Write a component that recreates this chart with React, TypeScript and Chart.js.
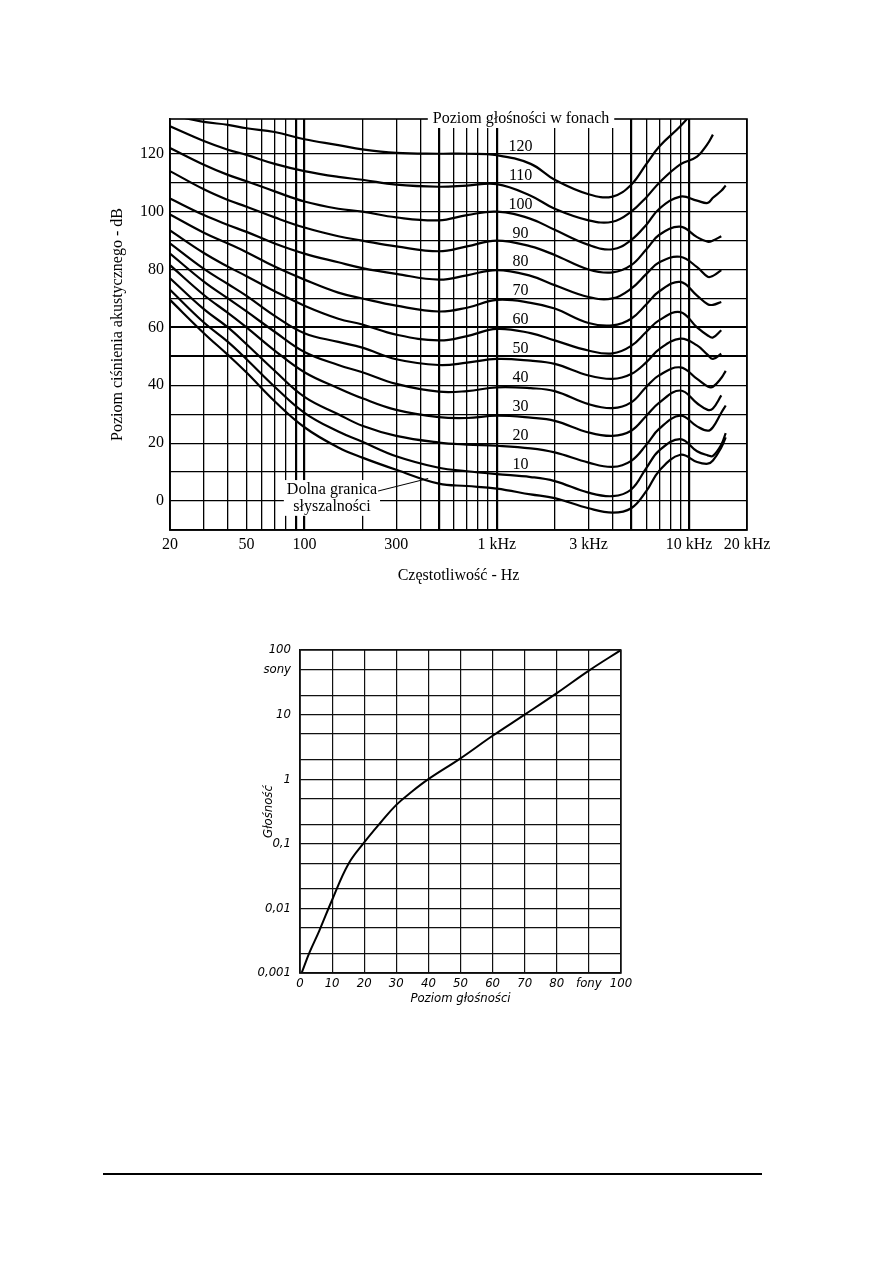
import React, { useEffect, useRef } from 'react';
import { Chart, registerables } from 'chart.js';

Chart.register(...registerables);
Chart.defaults.color = '#000';

// ================= Top chart: equal-loudness contours =================
const FREQ_HZ = [20, 30, 40, 50, 70, 100, 150, 200, 300, 500, 700, 1000, 1500, 2000, 3000, 4000, 5000, 6000, 7000, 9000, 11000, 12500, 13300, 14700, 15500];

const PHON_120 = [133.5, 131, 130, 128.8, 127.5, 125, 123, 121.5, 120.3, 120, 120, 119.5, 116.5, 111, 106, 105.2, 109.3, 116.5, 122.5, 129.5, 136, null, null, null, null];
const PHON_110 = [129.5, 124.4, 121.4, 119.6, 116.5, 114, 112, 111, 109.3, 108.6, 109, 109.5, 105.5, 101, 97, 96.5, 100, 105, 110, 116.3, 119, 123.5, 126.6, null, null];
const PHON_100 = [122, 116.2, 112.7, 110.5, 107, 103.5, 101, 100, 98, 97, 98.8, 100, 97.5, 93.7, 88.5, 87, 90.2, 95.5, 101, 105.2, 103.8, 103, 104.8, 107.2, 109];
const PHON_90 = [114, 107.7, 104, 101.7, 98, 94.5, 91.5, 90, 88, 86.3, 88, 90, 88, 85, 80, 79, 81.5, 87, 92, 94.8, 91.2, 89.6, 90, 91.5, null];
const PHON_80 = [104.5, 98.8, 95.4, 93, 89, 85.5, 82.5, 80.5, 78.5, 76.5, 78, 79.8, 77.8, 74.6, 70.5, 70, 73.4, 78.5, 82.5, 84.4, 80.8, 77.5, 77.8, 79.8, null];
const PHON_70 = [99, 92.7, 89, 86, 81, 76.5, 72, 70, 67.5, 65.5, 66.8, 69.5, 68.5, 66.5, 61.5, 60.7, 63, 68, 72.5, 75.7, 71, 68, 67.8, 68.8, null];
const PHON_60 = [93.5, 85.7, 81, 77.7, 72.5, 67.5, 63, 61, 57.5, 55.5, 57, 59.5, 58, 55.5, 52, 51, 53.6, 58.5, 62.5, 65.3, 60, 57.2, 56.5, 59, null];
const PHON_50 = [89, 80.2, 75, 70.9, 64, 58, 55, 53, 49, 47, 47.8, 49.1, 48.5, 47.4, 43.4, 42.2, 43.9, 48, 52.5, 56.1, 53.8, 50.5, 49.1, 50.9, null];
const PHON_40 = [85.5, 75.8, 70, 65.5, 58.5, 51.5, 47, 44.5, 40.5, 37.8, 38, 39.3, 39, 38, 33.5, 32.1, 34.1, 39.5, 43.5, 46.2, 42.2, 39.6, 39.5, 42.5, 45];
const PHON_30 = [81.5, 71.2, 65, 60, 52, 44.5, 39, 35.5, 31.5, 29, 28.7, 29.5, 28.8, 27.7, 23.7, 22.5, 24.3, 29.5, 34, 38.2, 33.8, 31.5, 32, 36.5, null];
const PHON_20 = [77, 66.3, 60, 54.2, 45, 36, 30, 26, 22.5, 20.2, 19.5, 19.1, 18.2, 16.8, 13.3, 11.8, 13.9, 19.5, 25, 29.5, 25.8, 24.3, 25.5, 30.5, 33];
const PHON_10 = [73, 61.7, 55, 49, 39.5, 30.5, 24, 20.5, 15.5, 11.5, 10.3, 9.3, 8.3, 6.9, 2.9, 1.7, 4, 11.5, 17.5, 21.4, 17.2, 15.8, 15.6, 19.5, 23.5];
const THRESHOLD = [69.5, 58, 50.5, 44.4, 34.5, 25.5, 18.5, 15, 10.8, 6, 5.2, 4.3, 2.3, 1, -2.5, -4, -2.5, 3.5, 10.5, 16, 13.5, 12.9, 14, 18.5, 22];

const CONTOUR_PHONS = [120, 110, 100, 90, 80, 70, 60, 50, 40, 30, 20, 10, 0];
const CONTOURS = [PHON_120, PHON_110, PHON_100, PHON_90, PHON_80, PHON_70, PHON_60, PHON_50, PHON_40, PHON_30, PHON_20, PHON_10, THRESHOLD];

const FREQ_GRID = [20, 30, 40, 50, 60, 70, 80, 90, 100, 200, 300, 400, 500, 600, 700, 800, 900, 1000, 2000, 3000, 4000, 5000, 6000, 7000, 8000, 9000, 10000, 20000];
const FREQ_LABEL_VALUES = [20, 50, 100, 300, 1000, 3000, 10000, 20000];
const FREQ_LABEL_TEXTS = ['20', '50', '100', '300', '1 kHz', '3 kHz', '10 kHz', '20 kHz'];
const FREQ_HEAVY = [90, 100, 500, 1000, 5000, 10000];

const SPL_GRID = [-10, 0, 10, 20, 30, 40, 50, 60, 70, 80, 90, 100, 110, 120];
const SPL_LABELS = [0, 20, 40, 60, 80, 100, 120];
const SPL_HEAVY = [50, 60];

const TOP_TITLE = 'Poziom głośności w fonach';
const THRESHOLD_TEXT = ['Dolna granica', 'słyszalności'];

// ================= Bottom chart: loudness vs loudness level =================
const LEVEL_PHON = [0.5, 3, 6, 10, 15, 20, 25, 30, 35, 40, 50, 60, 70, 80, 90, 100];
const LOUDNESS_SONE = [0.001, 0.0021, 0.0045, 0.0135, 0.048, 0.105, 0.21, 0.4, 0.65, 1, 2.1, 4.7, 10, 21.5, 48, 100];

const LEVEL_TICKS = [0, 10, 20, 30, 40, 50, 60, 70, 80, 90, 100];
const LEVEL_TICK_TEXTS = ['0', '10', '20', '30', '40', '50', '60', '70', '80', 'fony', '100'];
const SONE_GRID = [0.001, 0.002, 0.005, 0.01, 0.02, 0.05, 0.1, 0.2, 0.5, 1, 2, 5, 10, 20, 50, 100];
const SONE_LABEL_VALUES = [0.001, 0.01, 0.1, 1, 10, 50, 100];
const SONE_LABEL_TEXTS = ['0,001', '0,01', '0,1', '1', '10', 'sony', '100'];

const SERIF = '"Liberation Serif", "DejaVu Serif", serif';
const NARROW = '"Liberation Sans Narrow", "DejaVu Sans Condensed", "Liberation Sans", sans-serif';

const topAnnotations = {
  id: 'topAnnotations',
  afterDraw(chart: any) {
    const { ctx, chartArea, scales } = chart;
    const xs = scales.x;
    const ys = scales.y;
    ctx.save();
    ctx.strokeStyle = '#000';
    ctx.lineWidth = 1.6;
    ctx.strokeRect(chartArea.left, chartArea.top, chartArea.right - chartArea.left, chartArea.bottom - chartArea.top);

    ctx.font = `16px ${SERIF}`;
    ctx.fillStyle = '#000';
    ctx.textAlign = 'center';
    ctx.textBaseline = 'middle';

    // contour labels
    CONTOUR_PHONS.forEach((p) => {
      if (p <= 0) return;
      ctx.fillText(String(p), xs.getPixelForValue(1330), ys.getPixelForValue(p + 2.5));
    });

    // title on top border
    const tx = xs.getPixelForValue(1337);
    const ty = chartArea.top;
    const tw = ctx.measureText(TOP_TITLE).width;
    ctx.fillStyle = '#fff';
    ctx.fillRect(tx - tw / 2 - 5, ty - 11, tw + 10, 20);
    ctx.fillStyle = '#000';
    ctx.fillText(TOP_TITLE, tx, ty);

    // threshold label
    const lx = xs.getPixelForValue(139);
    const ly1 = ys.getPixelForValue(3.8);
    const ly2 = ys.getPixelForValue(-2.0);
    const w1 = ctx.measureText(THRESHOLD_TEXT[0]).width;
    const w2 = ctx.measureText(THRESHOLD_TEXT[1]).width;
    const bw = Math.max(w1, w2) + 6;
    ctx.fillStyle = '#fff';
    ctx.fillRect(lx - bw / 2, ly1 - 10, bw, ly2 - ly1 + 19);
    ctx.fillStyle = '#000';
    ctx.fillText(THRESHOLD_TEXT[0], lx, ly1);
    ctx.fillText(THRESHOLD_TEXT[1], lx, ly2);
    ctx.beginPath();
    ctx.lineWidth = 1;
    ctx.moveTo(lx + w1 / 2 + 1, ly1 + 1);
    ctx.lineTo(xs.getPixelForValue(440), ys.getPixelForValue(7.8));
    ctx.stroke();
    ctx.restore();
  },
};

const frame = {
  id: 'frame',
  afterDatasetsDraw(chart: any) {
    const { ctx, chartArea } = chart;
    ctx.save();
    ctx.strokeStyle = '#111';
    ctx.lineWidth = 1.4;
    ctx.strokeRect(chartArea.left, chartArea.top, chartArea.right - chartArea.left, chartArea.bottom - chartArea.top);
    ctx.restore();
  },
};

export default function App() {
  const topRef = useRef<HTMLCanvasElement>(null);
  const botRef = useRef<HTMLCanvasElement>(null);

  useEffect(() => {
    const serifFont = { family: SERIF, size: 16 };
    const top = new Chart(topRef.current as HTMLCanvasElement, {
      type: 'line',
      data: {
        datasets: CONTOURS.map((vals, k) => ({
          label: `${CONTOUR_PHONS[k]}`,
          data: vals.map((v, i) => ({ x: FREQ_HZ[i], y: v })),
          borderColor: '#000',
          borderWidth: 2.2,
          pointRadius: 0,
          fill: false,
          spanGaps: false,
          tension: 0.4,
        })),
      },
      options: {
        responsive: false,
        animation: false,
        layout: { padding: { left: 0, right: 48, top: 24, bottom: 10 } },
        plugins: { legend: { display: false }, tooltip: { enabled: false } },
        scales: {
          x: {
            type: 'logarithmic',
            min: 20,
            max: 20000,
            afterBuildTicks: (s: any) => {
              s.ticks = FREQ_GRID.map((v) => ({ value: v }));
            },
            afterFit: (s: any) => {
              s.height = 60;
            },
            ticks: {
              autoSkip: false,
              maxRotation: 0,
              padding: 5,
              color: '#000',
              font: serifFont,
              callback: (v: any) => {
                const i = FREQ_LABEL_VALUES.indexOf(Number(v));
                return i >= 0 ? FREQ_LABEL_TEXTS[i] : '';
              },
            },
            grid: {
              color: '#000',
              drawTicks: false,
              lineWidth: (c: any) => (c.tick && FREQ_HEAVY.includes(c.tick.value) ? 2.2 : 1.3),
            },
            border: { display: true, color: '#000', width: 1.6 },
            title: { display: true, text: 'Częstotliwość - Hz', color: '#000', font: serifFont, padding: { top: 0, bottom: 5 } },
          },
          y: {
            type: 'linear',
            min: -10,
            max: 132,
            afterBuildTicks: (s: any) => {
              s.ticks = SPL_GRID.map((v) => ({ value: v }));
            },
            afterFit: (s: any) => {
              s.width = 75;
            },
            ticks: {
              autoSkip: false,
              padding: 6,
              color: '#000',
              font: serifFont,
              callback: (v: any) => (SPL_LABELS.includes(Number(v)) ? String(v) : ''),
            },
            grid: {
              color: '#000',
              drawTicks: false,
              lineWidth: (c: any) => (c.tick && SPL_HEAVY.includes(c.tick.value) ? 2.0 : 1.3),
            },
            border: { display: true, color: '#000', width: 1.6 },
            title: {
              display: true,
              text: 'Poziom ciśnienia akustycznego - dB',
              color: '#000',
              font: serifFont,
              padding: { top: 13, bottom: 0 },
            },
          },
        },
      },
      plugins: [topAnnotations],
    } as any);

    const italic = { family: NARROW, size: 13, style: 'italic' as const };
    const bottom = new Chart(botRef.current as HTMLCanvasElement, {
      type: 'line',
      data: {
        datasets: [
          {
            label: 'Głośność',
            data: LEVEL_PHON.map((p, i) => ({ x: p, y: LOUDNESS_SONE[i] })),
            borderColor: '#000',
            borderWidth: 2,
            pointRadius: 0,
            fill: false,
            tension: 0.4,
          },
        ],
      },
      options: {
        responsive: false,
        animation: false,
        layout: { padding: { left: 0, right: 29, top: 20, bottom: 13 } },
        plugins: { legend: { display: false }, tooltip: { enabled: false } },
        scales: {
          x: {
            type: 'linear',
            min: 0,
            max: 100,
            afterBuildTicks: (s: any) => {
              s.ticks = LEVEL_TICKS.map((v) => ({ value: v }));
            },
            afterFit: (s: any) => {
              s.height = 34;
            },
            ticks: {
              autoSkip: false,
              maxRotation: 0,
              padding: 3,
              color: '#000',
              font: italic,
              callback: (v: any) => {
                const i = LEVEL_TICKS.indexOf(Number(v));
                return i >= 0 ? LEVEL_TICK_TEXTS[i] : '';
              },
            },
            grid: { color: '#111', lineWidth: 1.2, drawTicks: false },
            border: { display: true, color: '#000', width: 1.4 },
            title: { display: true, text: 'Poziom głośności', color: '#000', font: italic, padding: { top: 0, bottom: 1 } },
          },
          y: {
            type: 'logarithmic',
            min: 0.001,
            max: 100,
            afterBuildTicks: (s: any) => {
              s.ticks = SONE_GRID.map((v) => ({ value: v }));
            },
            afterFit: (s: any) => {
              s.width = 70;
            },
            ticks: {
              autoSkip: false,
              padding: 9,
              color: '#000',
              font: italic,
              callback: (v: any) => {
                const n = Number(v);
                const i = SONE_LABEL_VALUES.findIndex((t) => Math.abs(t - n) / t < 1e-6);
                return i >= 0 ? SONE_LABEL_TEXTS[i] : '';
              },
            },
            grid: { color: '#111', lineWidth: 1.2, drawTicks: false },
            border: { display: true, color: '#000', width: 1.4 },
            title: { display: true, text: 'Głośność', color: '#000', font: italic, padding: { top: 31, bottom: 0 } },
          },
        },
      },
      plugins: [frame],
    } as any);

    return () => {
      top.destroy();
      bottom.destroy();
    };
  }, []);

  return (
    <div style={{ position: 'absolute', left: 0, top: 0, width: 893, height: 1263, background: '#fff', overflow: 'hidden' }}>
      <canvas ref={topRef} width={700} height={505} style={{ position: 'absolute', left: 95, top: 95, width: 700, height: 505 }} />
      <canvas ref={botRef} width={420} height={390} style={{ position: 'absolute', left: 230, top: 630, width: 420, height: 390 }} />
      <div style={{ position: 'absolute', left: 103, top: 1173, width: 659, height: 0, borderTop: '2px solid #000' }} />
    </div>
  );
}
